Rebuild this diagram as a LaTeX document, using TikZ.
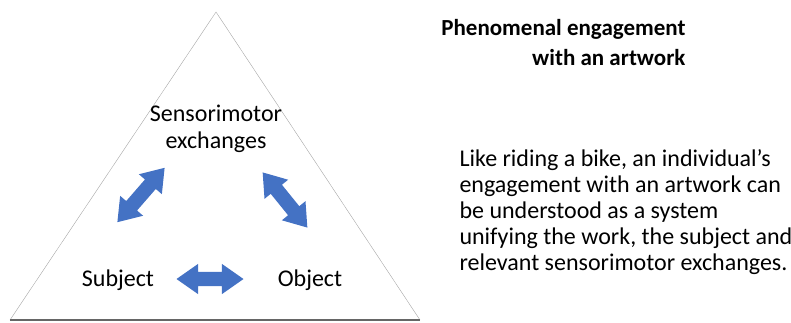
\documentclass[tikz,border=0pt]{standalone}
\usepackage{fontspec}
\setmainfont{Carlito}
\usetikzlibrary{shapes.arrows}
\definecolor{arrowblue}{HTML}{4472C4}
\begin{document}
\begin{tikzpicture}[x=1pt,y=-1pt,every node/.style={font=\fontsize{24}{27}\selectfont},
  biarrow/.style={double arrow,fill=arrowblue,inner sep=7pt,double arrow head extend=8pt,
    double arrow tip angle=70,minimum height=#1}]
  \useasboundingbox (0,0) rectangle (791,322);
  % triangle
  \draw[gray!70] (10,320) -- (216,12) -- (420,320);
  \draw[gray!80!black,line width=1.2pt] (10,320) -- (420,320);
  \node[align=center] (sens) at (216,129) {Sensorimotor\\exchanges};
  \node (subj) at (118,280) {Subject};
  \node (obj) at (310,280) {Object};
  \node[biarrow=72,rotate=49] (subjsens) at (141,195) {};
  \node[biarrow=71,rotate=-51] (sensobj) at (285,200) {};
  \node[biarrow=67] (subjobj) at (210,279) {};
  % text on the right
  \node[font=\bfseries\fontsize{23}{30}\selectfont,align=right,anchor=east] (title) at (689,43)
    {Phenomenal engagement\\with an artwork};
  \node[align=left,anchor=west,font=\fontsize{24}{26}\selectfont] (body) at (456,212)
    {Like riding a bike, an individual's\\engagement with an artwork can\\be understood as a system\\unifying the work, the subject and\\relevant sensorimotor exchanges.};
\end{tikzpicture}
\end{document}
